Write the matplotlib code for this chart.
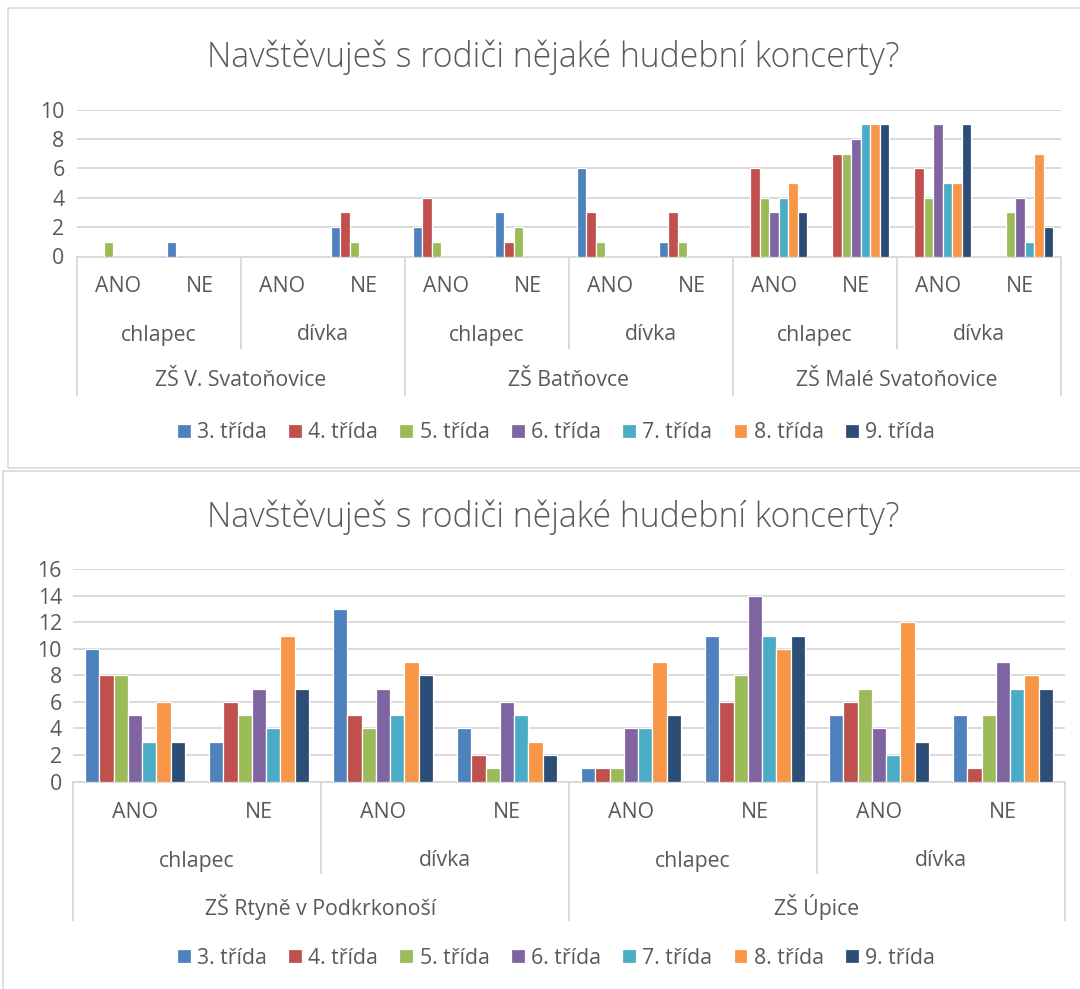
import matplotlib
matplotlib.use('Agg')
import matplotlib.pyplot as plt
import numpy as np
from matplotlib.transforms import blended_transform_factory
from matplotlib.patches import Rectangle

plt.rcParams['font.family'] = ['Open Sans', 'DejaVu Sans']

# ---------------- data ----------------
title = 'Navštěvuješ s rodiči nějaké hudební koncerty?'
series = ['3. třída', '4. třída', '5. třída', '6. třída', '7. třída', '8. třída', '9. třída']
colors = ['#4F81BD', '#C0504D', '#9BBB59', '#8064A2', '#4BACC6', '#F79646', '#2C4D75']
answers = ['ANO', 'NE']
genders = ['chlapec', 'dívka']
schools_top = ['ZŠ V. Svatoňovice', 'ZŠ Batňovce', 'ZŠ Malé Svatoňovice']
schools_bottom = ['ZŠ Rtyně v Podkrkonoší', 'ZŠ Úpice']

top_3 = [0, 1, 0, 2, 2, 3, 6, 1, 0, 0, 0, 0]
top_4 = [0, 0, 0, 3, 4, 1, 3, 3, 6, 7, 6, 0]
top_5 = [1, 0, 0, 1, 1, 2, 1, 1, 4, 7, 4, 3]
top_6 = [0, 0, 0, 0, 0, 0, 0, 0, 3, 8, 9, 4]
top_7 = [0, 0, 0, 0, 0, 0, 0, 0, 4, 9, 5, 1]
top_8 = [0, 0, 0, 0, 0, 0, 0, 0, 5, 9, 5, 7]
top_9 = [0, 0, 0, 0, 0, 0, 0, 0, 3, 9, 9, 2]

bottom_3 = [10, 3, 13, 4, 1, 11, 5, 5]
bottom_4 = [8, 6, 5, 2, 1, 6, 6, 1]
bottom_5 = [8, 5, 4, 1, 1, 8, 7, 5]
bottom_6 = [5, 7, 7, 6, 4, 14, 4, 9]
bottom_7 = [3, 4, 5, 5, 4, 11, 2, 7]
bottom_8 = [6, 11, 9, 3, 9, 10, 12, 8]
bottom_9 = [3, 7, 8, 2, 5, 11, 3, 7]

top_ticks = [0, 2, 4, 6, 8, 10]
bottom_ticks = [0, 2, 4, 6, 8, 10, 12, 14, 16]

# ---------------- layout ----------------
W, H = 1080, 989
fig = plt.figure(figsize=(W / 100, H / 100), dpi=100)
TXT = '#595959'
GRID = '#D9D9D9'
LABEL_FS = 15.3


def fy(py):
    return 1 - py / H


def fx(px):
    return px / W


# chart frames
fig.patches.append(Rectangle((fx(8), fy(468)), fx(1085) - fx(8), fy(8) - fy(468),
                             transform=fig.transFigure, fill=False, edgecolor=GRID, lw=1.2))
fig.patches.append(Rectangle((fx(3), fy(995)), fx(1085) - fx(3), fy(471) - fy(995),
                             transform=fig.transFigure, fill=False, edgecolor=GRID, lw=1.2))


def draw_chart(l, t, r, b, data, schools, ticks, rows, seps, legend_y, title_y, tick_pad):
    ax = fig.add_axes([fx(l), fy(b), fx(r) - fx(l), fy(t) - fy(b)])
    ncat = len(schools) * len(genders) * len(answers)
    x = np.arange(ncat) + 0.5
    bw = 0.115
    handles = []
    for j, (vals, c, name) in enumerate(zip(data, colors, series)):
        v = np.array(vals, dtype=float)
        m = v > 0
        h = ax.bar(x[m] + (j - 3) * bw, v[m], width=bw, color=c, edgecolor='white',
                   linewidth=0.9, label=name, zorder=3)
        handles.append(h)
    ax.set_xlim(0, ncat)
    ax.set_ylim(0, ticks[-1])
    ax.set_yticks(ticks)
    ax.set_xticks([])
    ax.yaxis.grid(True, color=GRID, lw=1.4)
    ax.set_axisbelow(True)
    for s in ['top', 'right', 'left']:
        ax.spines[s].set_visible(False)
    ax.spines['bottom'].set_color(GRID)
    ax.spines['bottom'].set_linewidth(1.4)
    ax.tick_params(axis='y', length=0, labelcolor=TXT, labelsize=LABEL_FS, pad=tick_pad)

    tr = blended_transform_factory(ax.transData, fig.transFigure)
    # level labels
    for i in range(ncat):
        ax.text(i + 0.5, fy(rows[0]), answers[i % 2], transform=tr, ha='center', va='center',
                fontsize=LABEL_FS, color=TXT)
    for g in range(ncat // 2):
        ax.text(2 * g + 1, fy(rows[1]), genders[g % 2], transform=tr, ha='center', va='center',
                fontsize=LABEL_FS, color=TXT)
    for s, name in enumerate(schools):
        ax.text(4 * s + 2, fy(rows[2]), name, transform=tr, ha='center', va='center',
                fontsize=LABEL_FS, color=TXT)
    # separator lines
    axis_y = fy(b)
    for k in range(0, ncat + 1, 2):
        end = seps[1] if k % 4 == 0 else seps[0]
        ax.plot([k, k], [axis_y, fy(end)], transform=tr, color=GRID, lw=1.4,
                clip_on=False, solid_capstyle='butt')

    # legend
    ax.legend(handles=handles, loc='center', bbox_to_anchor=(fx(556), fy(legend_y)),
              bbox_transform=fig.transFigure, ncol=7, frameon=False,
              handlelength=0.65, handleheight=0.65, handletextpad=0.3,
              columnspacing=1.0, fontsize=LABEL_FS, labelcolor=TXT, borderpad=0)

    # title
    tt = fig.text(fx(553), fy(title_y), title, ha='center', va='center', fontsize=24,
                  color=TXT, fontweight='light')
    fig.canvas.draw()
    bb = tt.get_window_extent(fig.canvas.get_renderer())
    tt.set_fontsize(24 * 695 / bb.width)
    return ax


draw_chart(77, 109.5, 1061, 256.5,
           [top_3, top_4, top_5, top_6, top_7, top_8, top_9],
           schools_top, top_ticks, rows=(287, 335, 381), seps=(349, 396),
           legend_y=433, title_y=57, tick_pad=9)

draw_chart(73, 569.3, 1065, 781.5,
           [bottom_3, bottom_4, bottom_5, bottom_6, bottom_7, bottom_8, bottom_9],
           schools_bottom, bottom_ticks, rows=(813, 861, 907), seps=(874, 921),
           legend_y=958, title_y=517, tick_pad=8)

fig.savefig('out.png', dpi=100, facecolor='white')
